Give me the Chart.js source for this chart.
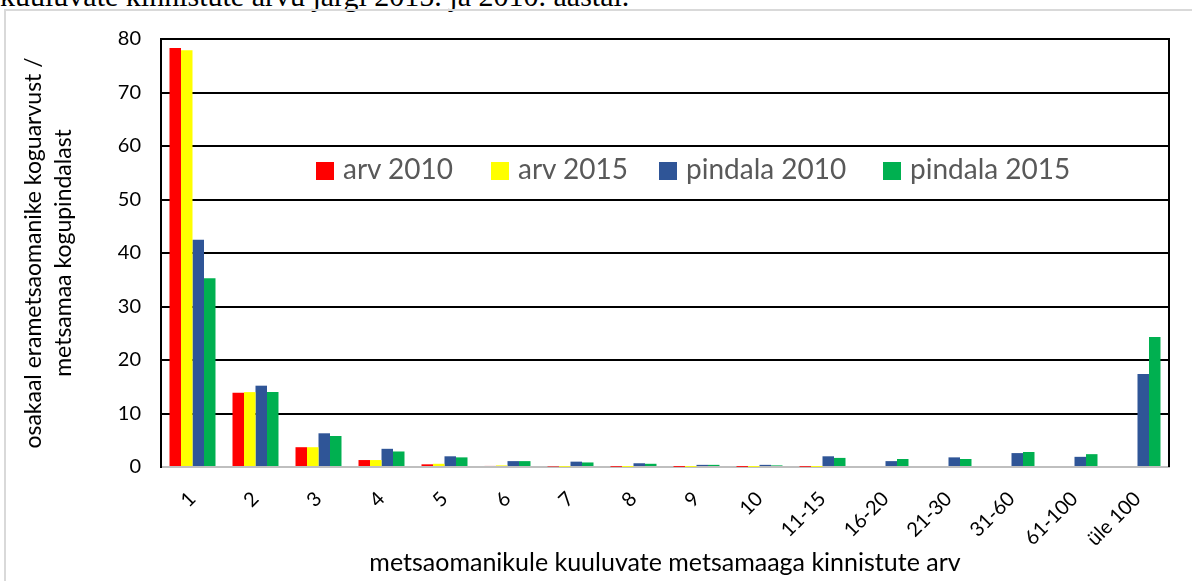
<!DOCTYPE html>
<html>
<head>
<meta charset="utf-8">
<script src="https://cdn.jsdelivr.net/npm/chart.js@4"></script>
<style>
  body { margin: 0; background: #fff; overflow: hidden; }
  #wrap { position: relative; width: 1192px; height: 581px; }
  #frame { position: absolute; left: 4px; top: 9px; width: 1200px; height: 600px; border: 2px solid #d9d9d9; box-sizing: border-box; }
  #caption { position: absolute; left: 0; top: -21px; font-family: "Liberation Serif", serif; font-size: 30px; color: #000; white-space: nowrap; }
  canvas { position: absolute; left: 0; top: 0; }
  .leg { position: absolute; top: 151px; font-family: Lato, sans-serif; font-size: 28px; color: #595959; white-space: nowrap; line-height: 34px; }
  .leg span { display: inline-block; width: 18px; height: 18px; margin-right: 9px; vertical-align: -1px; }
</style>
</head>
<body>
<div id="wrap">
  <div id="caption">kuuluvate kinnistute arvu järgi 2015. ja 2010. aastal.</div>
  <div id="frame"></div>
  <canvas id="barChart" width="1192" height="581"></canvas>
  <div id="legend"></div>
</div>
<script>
let categories = ["1", "2", "3", "4", "5", "6", "7", "8", "9", "10", "11-15", "16-20", "21-30", "31-60", "61-100", "üle 100"];
let arv2010 = [78.3, 13.9, 3.7, 1.3, 0.5, 0.2, 0.1, 0.05, 0.03, 0.03, 0.05, 0, 0, 0, 0, 0];
let arv2015 = [77.9, 14.0, 3.7, 1.3, 0.6, 0.3, 0.05, 0.03, 0.03, 0.03, 0.03, 0, 0, 0, 0, 0];
let pindala2010 = [42.5, 15.2, 6.3, 3.4, 2.0, 1.1, 1.0, 0.7, 0.4, 0.4, 2.0, 1.1, 1.8, 2.6, 1.9, 17.4];
let pindala2015 = [35.3, 14.0, 5.8, 2.9, 1.8, 1.1, 0.85, 0.6, 0.4, 0.3, 1.7, 1.5, 1.5, 2.8, 2.4, 24.3];
let yTicks = [0, 10, 20, 30, 40, 50, 60, 70, 80];

let seriesNames = ["arv 2010", "arv 2015", "pindala 2010", "pindala 2015"];
let seriesColors = ["#FF0000", "#FFFF00", "#2F5597", "#00B050"];
let legendLeft = [316, 491, 659, 883]; // x of each legend square

// html legend inside the plot, like the original
let legend = document.getElementById("legend");
seriesNames.forEach((name, i) => {
    let div = document.createElement("div");
    div.className = "leg";
    div.style.left = legendLeft[i] + "px";
    div.innerHTML = `<span style="background:${seriesColors[i]}"></span>${name}`;
    legend.appendChild(div);
});

// right edge of the plot frame
const rightBorder = {
    id: "rightBorder",
    afterDraw(chart) {
        let { ctx, chartArea } = chart;
        ctx.save();
        ctx.strokeStyle = "#000";
        ctx.lineWidth = 2;
        ctx.beginPath();
        ctx.moveTo(chartArea.right, chartArea.top - 1);
        ctx.lineTo(chartArea.right, chartArea.bottom);
        ctx.stroke();
        ctx.restore();
    }
};

let ctx = document.getElementById("barChart").getContext("2d");
new Chart(ctx, {
    type: "bar",
    data: {
        labels: categories,
        datasets: [arv2010, arv2015, pindala2010, pindala2015].map((values, i) => ({
            label: seriesNames[i],
            data: values,
            backgroundColor: seriesColors[i],
            borderWidth: 0,
            categoryPercentage: 0.73,
            barPercentage: 1
        }))
    },
    options: {
        responsive: false,
        animation: false,
        layout: { padding: { top: 39, right: 23, left: 0, bottom: 0 } },
        scales: {
            x: {
                grid: { display: false, drawTicks: false },
                border: { color: "#bfbfbf", width: 2 },
                ticks: {
                    autoSkip: false,
                    maxRotation: 45,
                    minRotation: 45,
                    padding: 20,
                    color: "#000",
                    font: { family: "Lato", size: 20 }
                },
                title: {
                    display: true,
                    text: "metsaomanikule kuuluvate metsamaaga kinnistute arv",
                    color: "#000",
                    font: { family: "Lato", size: 25 },
                    padding: { top: 0, bottom: 3 }
                },
                afterFit: function (scale) { scale.height = 114; }
            },
            y: {
                min: 0,
                max: 80,
                afterBuildTicks: function (scale) {
                    scale.ticks = yTicks.map(v => ({ value: v }));
                },
                grid: {
                    drawTicks: false,
                    lineWidth: 2,
                    color: c => c.tick && c.tick.value === 0 ? "#bfbfbf" : "#000"
                },
                border: { color: "#000", width: 2 },
                ticks: {
                    padding: 20,
                    color: "#000",
                    font: { family: "Lato", size: 20 }
                },
                title: {
                    display: true,
                    text: ["osakaal erametsaomanike koguarvust /", "metsamaa kogupindalast"],
                    color: "#000",
                    font: { family: "Lato", size: 23, lineHeight: "30px" },
                    padding: { top: 19, bottom: 0 }
                },
                afterFit: function (scale) { scale.width = 161; }
            }
        },
        plugins: {
            legend: { display: false },
            tooltip: { enabled: false }
        }
    },
    plugins: [rightBorder]
});
</script>
</body>
</html>
